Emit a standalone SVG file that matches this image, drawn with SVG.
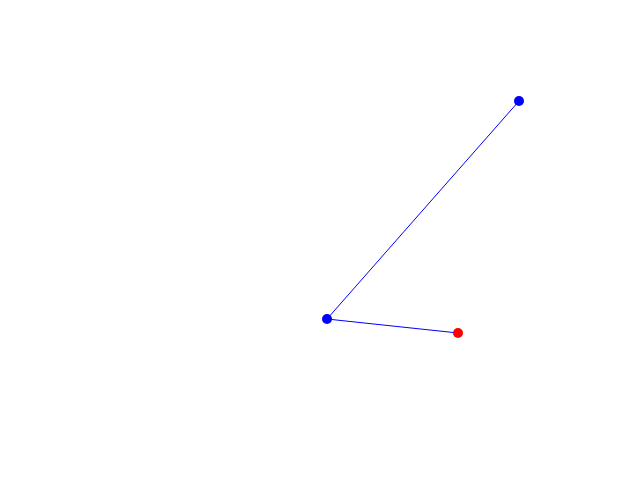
<svg xmlns="http://www.w3.org/2000/svg" width="640" height="480" viewBox="0 0 640 480">
<style>
.edge{stroke:#0000ff;stroke-width:1;fill:none}
.blue{fill:#0000ff}
.red{fill:#ff0000}
</style>
<rect width="640" height="480" fill="#ffffff"/>
<g id="connectors">
<line class="edge" x1="519" y1="101" x2="327" y2="319"/>
<line class="edge" x1="327" y1="319" x2="458" y2="333"/>
</g>
<g id="node-top"><circle class="blue" cx="519" cy="101" r="5"/></g>
<g id="node-mid"><circle class="blue" cx="327" cy="319" r="5"/></g>
<g id="node-red"><circle class="red" cx="458" cy="333" r="5"/></g>
</svg>
